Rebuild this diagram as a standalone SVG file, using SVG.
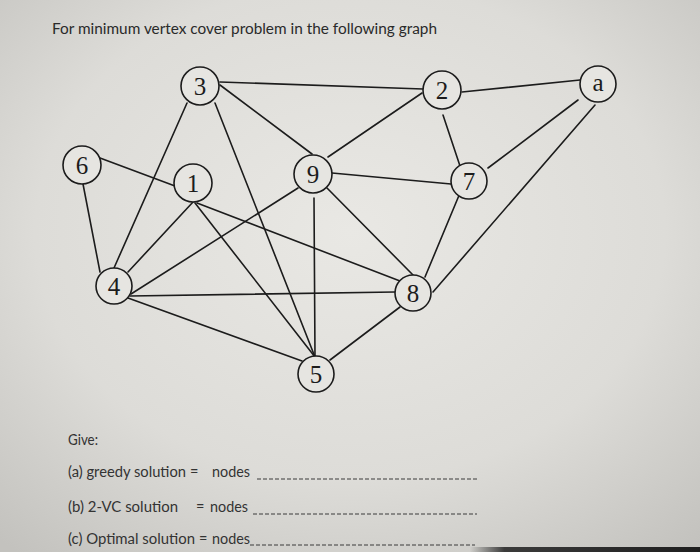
<svg xmlns="http://www.w3.org/2000/svg" width="700" height="552" viewBox="0 0 700 552">
<defs>
<radialGradient id="bg" cx="0.5" cy="0.42" r="0.75">
<stop offset="0" stop-color="#e9e8e4"/>
<stop offset="0.6" stop-color="#dddcd8"/>
<stop offset="1" stop-color="#c3c2be"/>
</radialGradient>
<linearGradient id="edge" x1="0" y1="0" x2="1" y2="0">
<stop offset="0" stop-color="#2a2a2a" stop-opacity="0"/>
<stop offset="0.15" stop-color="#2a2a2a" stop-opacity="0.9"/>
<stop offset="1" stop-color="#1e1e1e"/>
</linearGradient>
</defs>
<style>
.e{stroke:#1c1c1c;stroke-width:1.6;fill:none;stroke-linecap:round}
.n circle{fill:#e6e5e1;stroke:#1c1c1c;stroke-width:1.6}
.n text{font-family:"Liberation Serif","Times New Roman",serif;font-size:25px;fill:#1c1c1c;text-anchor:middle}
.t{font-family:Lato,"Liberation Sans",Arial,sans-serif;fill:#2a2a2a}
.b{font-size:14.5px;fill:#333}
.d{stroke:#3a3a3a;stroke-width:1;stroke-dasharray:4 2}
</style>
<rect width="700" height="552" fill="url(#bg)"/>
<rect x="470" y="547" width="230" height="5" fill="url(#edge)"/>
<text class="t" x="52" y="34" font-size="15.5" textLength="385" lengthAdjust="spacingAndGlyphs">For minimum vertex cover problem in the following graph</text>
<g id="edges">
<line class="e" x1="220" y1="82" x2="423" y2="89"/>
<line class="e" x1="220" y1="85" x2="312" y2="154"/>
<line class="e" x1="187" y1="103" x2="114" y2="268"/>
<line class="e" x1="215" y1="103" x2="315" y2="357"/>
<line class="e" x1="100" y1="158" x2="175" y2="186"/>
<line class="e" x1="83" y1="184" x2="100" y2="272"/>
<line class="e" x1="193" y1="202" x2="128" y2="272"/>
<line class="e" x1="195" y1="203" x2="315" y2="357"/>
<line class="e" x1="197" y1="203" x2="400" y2="281"/>
<line class="e" x1="328" y1="157" x2="422" y2="93"/>
<line class="e" x1="332" y1="173" x2="451" y2="184"/>
<line class="e" x1="298" y1="188" x2="131" y2="294"/>
<line class="e" x1="327" y1="188" x2="413" y2="275"/>
<line class="e" x1="314" y1="198" x2="315" y2="357"/>
<line class="e" x1="462" y1="92" x2="580" y2="80"/>
<line class="e" x1="443" y1="115" x2="460" y2="166"/>
<line class="e" x1="488" y1="168" x2="578" y2="100"/>
<line class="e" x1="460" y1="193" x2="425" y2="277"/>
<line class="e" x1="595" y1="105" x2="433" y2="292"/>
<line class="e" x1="130" y1="296" x2="395" y2="292"/>
<line class="e" x1="128" y1="298" x2="302" y2="361"/>
<line class="e" x1="400" y1="307" x2="330" y2="360"/>
</g>
<g id="n3" class="n"><circle cx="200" cy="86" r="19"/><text x="200" y="95">3</text></g>
<g id="n2" class="n"><circle cx="442" cy="90" r="19"/><text x="442" y="99">2</text></g>
<g id="na" class="n"><circle cx="598" cy="84" r="18"/><text x="598" y="91">a</text></g>
<g id="n6" class="n"><circle cx="82" cy="165" r="19"/><text x="82" y="174">6</text></g>
<g id="n1" class="n"><circle cx="193" cy="183" r="19"/><text x="193" y="192">1</text></g>
<g id="n9" class="n"><circle cx="313" cy="174" r="19"/><text x="313" y="183">9</text></g>
<g id="n7" class="n"><circle cx="469" cy="181" r="18"/><text x="469" y="190">7</text></g>
<g id="n4" class="n"><circle cx="114" cy="286" r="18"/><text x="114" y="295">4</text></g>
<g id="n8" class="n"><circle cx="413" cy="293" r="18"/><text x="413" y="302">8</text></g>
<g id="n5" class="n"><circle cx="316" cy="374" r="18"/><text x="316" y="383">5</text></g>
<text class="t b" x="68" y="445" textLength="30" lengthAdjust="spacingAndGlyphs">Give:</text>
<text class="t b" x="68" y="477" textLength="118" lengthAdjust="spacingAndGlyphs">(a) greedy solution</text>
<text class="t b" x="190" y="477">=</text>
<text class="t b" x="212" y="477" textLength="38" lengthAdjust="spacingAndGlyphs">nodes</text>
<line class="d" x1="257" y1="479" x2="478" y2="479"/>
<text class="t b" x="68" y="512" textLength="110" lengthAdjust="spacingAndGlyphs">(b) 2-VC solution</text>
<text class="t b" x="196" y="512">=</text>
<text class="t b" x="210" y="512" textLength="38" lengthAdjust="spacingAndGlyphs">nodes</text>
<line class="d" x1="253" y1="514" x2="477" y2="514"/>
<text class="t b" x="68" y="544" textLength="127" lengthAdjust="spacingAndGlyphs">(c) Optimal solution</text>
<text class="t b" x="199" y="544">=</text>
<text class="t b" x="212" y="544" textLength="38" lengthAdjust="spacingAndGlyphs">nodes</text>
<line class="d" x1="250" y1="545" x2="475" y2="545"/>
</svg>
